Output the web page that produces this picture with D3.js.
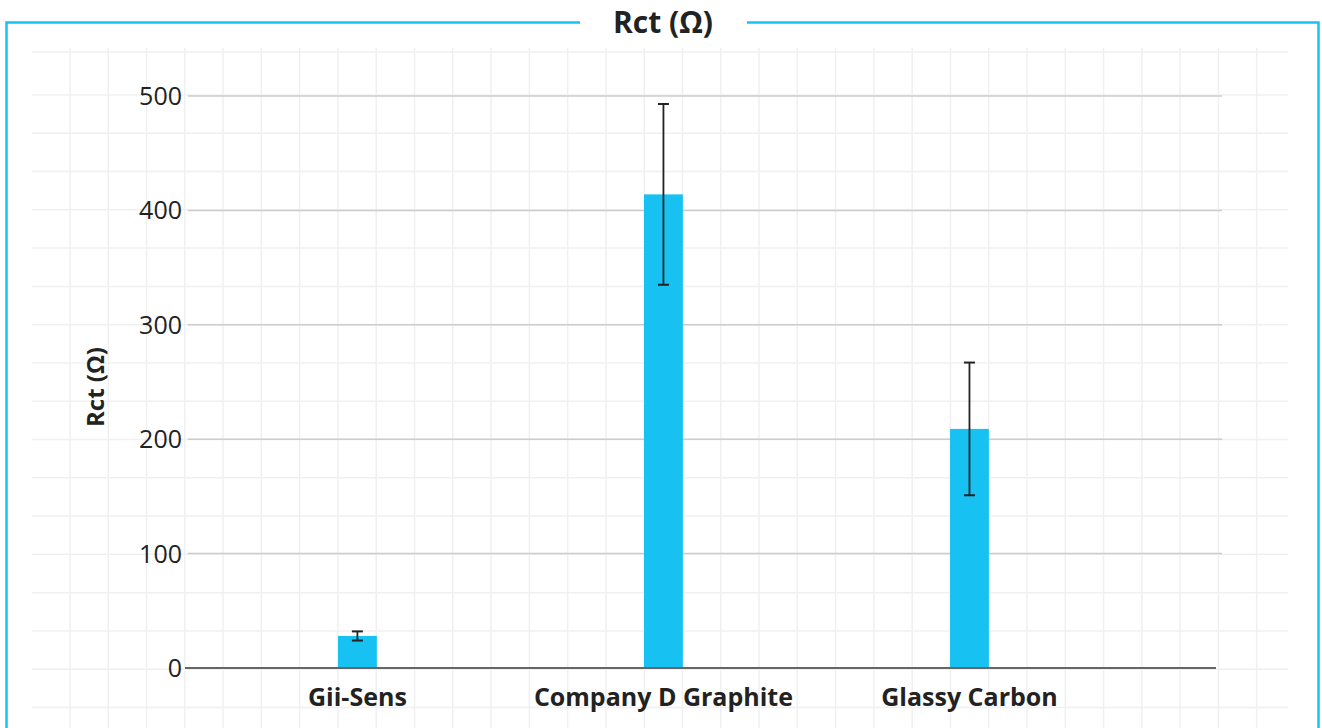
<!DOCTYPE html>
<html>
<head>
<meta charset="utf-8">
<script src="https://cdn.jsdelivr.net/npm/d3@7"></script>
<style>
  html, body { margin: 0; padding: 0; background: #fff; }
  svg { display: block; }
  text { font-family: "Open Sans", "Noto Sans", sans-serif; fill: #222; }
</style>
</head>
<body>
<svg id="chart" width="1322" height="728"></svg>
<script>
const categories = ["Gii-Sens", "Company D Graphite", "Glassy Carbon"];
const rctValues = [28, 414, 209];
const rctErrors = [4, 79, 58];
const yTicks = [0, 100, 200, 300, 400, 500];
const chartTitle = "Rct (Ω)";
const yAxisTitle = "Rct (Ω)";

const W = 1322, H = 728;
const svg = d3.select("#chart");
const accent = "#17c2f2";

// background grid
const bg = svg.append("g");
const gridStep = 38.28;
const vLines = d3.range(0, 32).map(i => 70 + i * gridStep);
const hLines = [52].concat(d3.range(0, 17).map(i => 95 + i * gridStep));
bg.selectAll("line.v").data(vLines).join("line")
  .attr("x1", d => d).attr("x2", d => d).attr("y1", 48).attr("y2", H)
  .attr("stroke", "#f0f0f0").attr("stroke-width", 1.5);
bg.selectAll("line.h").data(hLines).join("line")
  .attr("x1", 32).attr("x2", 1288).attr("y1", d => d).attr("y2", d => d)
  .attr("stroke", "#f0f0f0").attr("stroke-width", 1.5);

// frame
svg.append("rect").attr("x", 6.5).attr("y", 22.5).attr("width", 1312).attr("height", 760)
  .attr("fill", "none").attr("stroke", accent).attr("stroke-width", 2.5);
svg.append("rect").attr("x", 580).attr("y", 15).attr("width", 167).attr("height", 15).attr("fill", "#fff");
svg.append("text").attr("x", 663).attr("y", 33).attr("text-anchor", "middle")
  .attr("font-size", 30).attr("font-weight", 700).text(chartTitle);

// scales
const y = d3.scaleLinear().domain([0, 500]).range([668, 96]);
const x = d3.scaleBand().domain(categories).range([185, 1216])
  .paddingInner(0.873).paddingOuter(0.621).align(0.4025);

// gridlines
const g = svg.append("g");
g.selectAll("line.grid").data(yTicks.filter(d => d > 0)).join("line")
  .attr("x1", 188).attr("x2", 1222)
  .attr("y1", d => y(d)).attr("y2", d => y(d))
  .attr("stroke", "#cccccc").attr("stroke-width", 1.5);

// y tick labels
g.selectAll("text.tick").data(yTicks).join("text")
  .attr("x", 182).attr("y", d => y(d) + 9)
  .attr("text-anchor", "end").attr("font-size", 25).text(d => d);

// bars
g.selectAll("rect.bar").data(categories).join("rect")
  .attr("x", d => x(d)).attr("width", x.bandwidth())
  .attr("y", (d, i) => y(rctValues[i]))
  .attr("height", (d, i) => y(0) - y(rctValues[i]))
  .attr("fill", accent);

// axis line
g.append("line").attr("x1", 185).attr("x2", 1216).attr("y1", y(0)).attr("y2", y(0))
  .attr("stroke", "#666").attr("stroke-width", 2);

// error bars
const eb = g.selectAll("g.err").data(categories).join("g")
  .attr("transform", d => `translate(${x(d) + x.bandwidth() / 2},0)`);
eb.append("line").attr("x1", 0).attr("x2", 0)
  .attr("y1", (d, i) => y(rctValues[i] + rctErrors[i]))
  .attr("y2", (d, i) => y(rctValues[i] - rctErrors[i]))
  .attr("stroke", "#222").attr("stroke-width", 1.8);
[1, -1].forEach(s => {
  eb.append("line").attr("x1", -5.5).attr("x2", 5.5)
    .attr("y1", (d, i) => y(rctValues[i] + s * rctErrors[i]))
    .attr("y2", (d, i) => y(rctValues[i] + s * rctErrors[i]))
    .attr("stroke", "#222").attr("stroke-width", 2);
});

// category labels
g.selectAll("text.cat").data(categories).join("text")
  .attr("x", d => x(d) + x.bandwidth() / 2).attr("y", 706)
  .attr("text-anchor", "middle").attr("font-size", 25).attr("font-weight", 700)
  .text(d => d);

// y axis title
svg.append("text").attr("transform", "translate(104,387) rotate(-90)")
  .attr("text-anchor", "middle").attr("font-size", 24).attr("font-weight", 700)
  .text(yAxisTitle);
</script>
</body>
</html>
